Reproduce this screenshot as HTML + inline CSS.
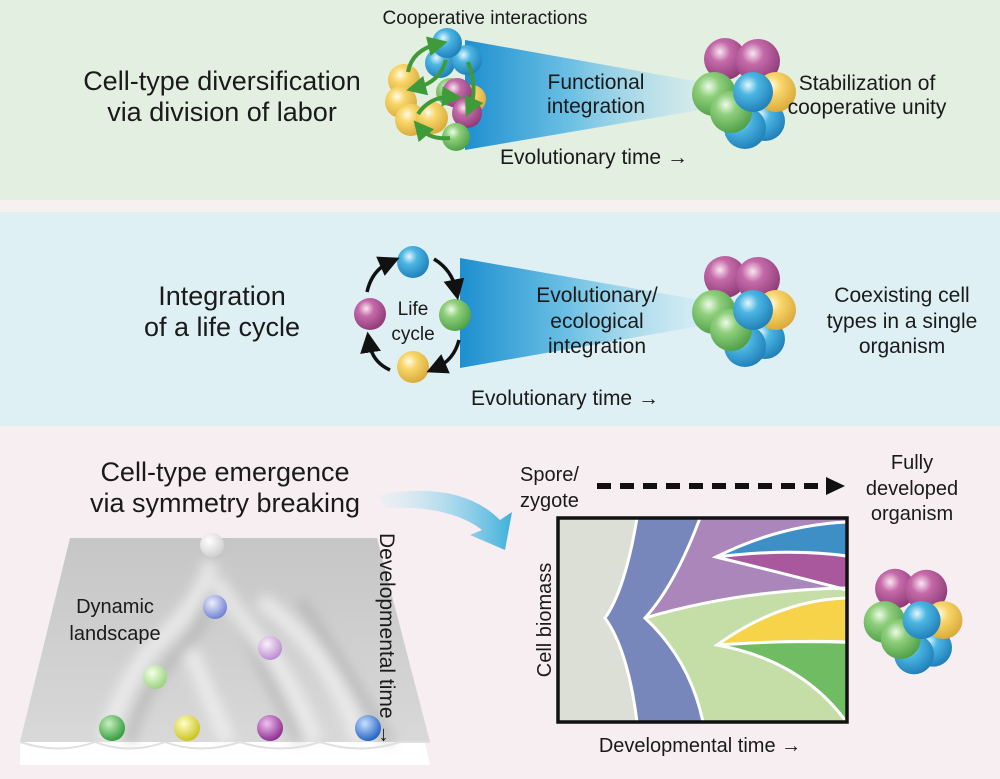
<!DOCTYPE html>
<html><head><meta charset="utf-8"><style>
html,body{margin:0;padding:0;background:#f7f0f1}
svg{display:block}
text{font-family:"Liberation Sans",Arial,sans-serif;fill:#1a1a1a}
</style></head><body>
<svg width="1000" height="779" viewBox="0 0 1000 779" xmlns="http://www.w3.org/2000/svg">
<defs>
<radialGradient id="gb" cx="0.38" cy="0.33" r="0.7"><stop offset="0" stop-color="#e6f6fc"/><stop offset="0.35" stop-color="#4cb6e3"/><stop offset="1" stop-color="#1f7fb8"/></radialGradient>
<radialGradient id="gy" cx="0.38" cy="0.33" r="0.7"><stop offset="0" stop-color="#fffbe6"/><stop offset="0.35" stop-color="#f8d66a"/><stop offset="1" stop-color="#d9a93a"/></radialGradient>
<radialGradient id="gp" cx="0.38" cy="0.33" r="0.7"><stop offset="0" stop-color="#f8e6f2"/><stop offset="0.35" stop-color="#c56aa8"/><stop offset="1" stop-color="#8e3a78"/></radialGradient>
<radialGradient id="gg" cx="0.38" cy="0.33" r="0.7"><stop offset="0" stop-color="#eefae8"/><stop offset="0.35" stop-color="#8fcf7c"/><stop offset="1" stop-color="#4e9f47"/></radialGradient>
<radialGradient id="gw" cx="0.38" cy="0.33" r="0.7"><stop offset="0" stop-color="#ffffff"/><stop offset="1" stop-color="#cfcfcf"/></radialGradient>
<radialGradient id="gbl" cx="0.38" cy="0.33" r="0.7"><stop offset="0" stop-color="#eef"/><stop offset="1" stop-color="#6d7fd0"/></radialGradient>
<radialGradient id="gli" cx="0.38" cy="0.33" r="0.7"><stop offset="0" stop-color="#fbf0fb"/><stop offset="1" stop-color="#b88ad0"/></radialGradient>
<radialGradient id="glg" cx="0.38" cy="0.33" r="0.7"><stop offset="0" stop-color="#f4ffe8"/><stop offset="1" stop-color="#9ad27a"/></radialGradient>
<radialGradient id="gdg" cx="0.38" cy="0.33" r="0.7"><stop offset="0" stop-color="#c8f0c0"/><stop offset="1" stop-color="#2f9a3a"/></radialGradient>
<radialGradient id="gdy" cx="0.38" cy="0.33" r="0.7"><stop offset="0" stop-color="#ffffc8"/><stop offset="1" stop-color="#c9c21a"/></radialGradient>
<radialGradient id="gdp" cx="0.38" cy="0.33" r="0.7"><stop offset="0" stop-color="#f0c0f0"/><stop offset="1" stop-color="#8a2a90"/></radialGradient>
<radialGradient id="gdb" cx="0.38" cy="0.33" r="0.7"><stop offset="0" stop-color="#c8e0ff"/><stop offset="1" stop-color="#1f5fc0"/></radialGradient>
<linearGradient id="fun" x1="0" x2="1" y1="0" y2="0"><stop offset="0" stop-color="#1e8fd0"/><stop offset="0.45" stop-color="#6cc0e4"/><stop offset="1" stop-color="#c8e8f2" stop-opacity="0.5"/></linearGradient>
<linearGradient id="land" x1="0" x2="0" y1="0" y2="1"><stop offset="0" stop-color="#c6c6c6"/><stop offset="1" stop-color="#d8d8d8"/></linearGradient>
<linearGradient id="arr" x1="0" x2="1"><stop offset="0" stop-color="#dff2f8" stop-opacity="0.3"/><stop offset="1" stop-color="#3fb0dc"/></linearGradient>
<filter id="bl"><feGaussianBlur stdDeviation="6"/></filter>
<marker id="ah" markerWidth="6" markerHeight="6" refX="3" refY="3" orient="auto"><path d="M0,0 L6,3 L0,6 z" fill="#111"/></marker>
<marker id="ahg" markerWidth="5" markerHeight="5" refX="2.5" refY="2.5" orient="auto"><path d="M0,0 L5,2.5 L0,5 z" fill="#3f9a3a"/></marker>
<g id="cl">
<circle cx="-20" cy="-35" r="21" fill="url(#gp)"/>
<circle cx="13" cy="-33" r="22" fill="url(#gp)"/>
<circle cx="-31" cy="0" r="22" fill="url(#gg)"/>
<circle cx="20" cy="27" r="20" fill="url(#gb)"/>
<circle cx="0" cy="34" r="21" fill="url(#gb)"/>
<circle cx="-14" cy="18" r="21" fill="url(#gg)"/>
<circle cx="31" cy="-2" r="20" fill="url(#gy)"/>
<circle cx="8" cy="-2" r="20" fill="url(#gb)"/>
</g>
</defs>

<rect x="0" y="0" width="1000" height="200" fill="#e3efe1"/>
<rect x="0" y="212" width="1000" height="214" fill="#dff0f4"/>
<rect x="0" y="432" width="1000" height="347" fill="#f6eef1"/>

<!-- TOP -->
<text x="222" y="90" font-size="27" text-anchor="middle">Cell-type diversification</text>
<text x="222" y="121" font-size="27" text-anchor="middle">via division of labor</text>
<text x="485" y="24" font-size="19" text-anchor="middle">Cooperative interactions</text>
<path d="M465,40 L700,82 L700,110 L465,150 Z" fill="url(#fun)"/>
<g>
<circle cx="404" cy="80" r="16" fill="url(#gy)"/>
<circle cx="401" cy="102" r="16" fill="url(#gy)"/>
<circle cx="411" cy="120" r="16" fill="url(#gy)"/>
<circle cx="432" cy="118" r="16" fill="url(#gy)"/>
<circle cx="440" cy="63" r="15" fill="url(#gb)"/>
<circle cx="467" cy="60" r="15" fill="url(#gb)"/>
<circle cx="447" cy="43" r="15" fill="url(#gb)"/>
<circle cx="450" cy="92" r="14" fill="url(#gg)"/>
<circle cx="472" cy="99" r="14" fill="url(#gy)"/>
<circle cx="457" cy="93" r="15" fill="url(#gp)"/>
<circle cx="467" cy="113" r="15" fill="url(#gp)"/>
<circle cx="456" cy="137" r="14" fill="url(#gg)"/>
<path d="M408,72 Q412,50 438,44" stroke="#3f9a3a" stroke-width="4" fill="none" marker-end="url(#ahg)"/>
<path d="M446,60 Q440,82 416,88" stroke="#3f9a3a" stroke-width="4" fill="none" marker-end="url(#ahg)"/>
<path d="M468,62 Q478,90 470,108" stroke="#3f9a3a" stroke-width="4" fill="none" marker-end="url(#ahg)"/>
<path d="M418,114 Q430,96 452,97" stroke="#3f9a3a" stroke-width="4" fill="none" marker-end="url(#ahg)"/>
<path d="M450,138 Q430,140 420,128" stroke="#3f9a3a" stroke-width="4" fill="none" marker-end="url(#ahg)"/>
</g>
<text x="596" y="89" font-size="21" text-anchor="middle">Functional</text>
<text x="596" y="113" font-size="21" text-anchor="middle">integration</text>
<use href="#cl" transform="translate(745,94)"/>
<text x="867" y="90" font-size="21" text-anchor="middle">Stabilization of</text>
<text x="867" y="114" font-size="21" text-anchor="middle">cooperative unity</text>
<text x="594" y="164" font-size="21" text-anchor="middle">Evolutionary time →</text>

<!-- MIDDLE -->
<text x="222" y="305" font-size="27" text-anchor="middle">Integration</text>
<text x="222" y="336" font-size="27" text-anchor="middle">of a life cycle</text>
<path d="M460,258 L700,300 L700,326 L460,368 Z" fill="url(#fun)"/>
<circle cx="413" cy="262" r="16" fill="url(#gb)"/>
<circle cx="370" cy="314" r="16" fill="url(#gp)"/>
<circle cx="455" cy="315" r="16" fill="url(#gg)"/>
<circle cx="413" cy="367" r="16" fill="url(#gy)"/>
<path d="M367,292 Q372,270 390,262" stroke="#111" stroke-width="3.5" fill="none" marker-end="url(#ah)"/>
<path d="M434,259 Q452,270 456,290" stroke="#111" stroke-width="3.5" fill="none" marker-end="url(#ah)"/>
<path d="M459,340 Q454,360 436,368" stroke="#111" stroke-width="3.5" fill="none" marker-end="url(#ah)"/>
<path d="M390,370 Q372,362 369,342" stroke="#111" stroke-width="3.5" fill="none" marker-end="url(#ah)"/>
<text x="413" y="315" font-size="19" text-anchor="middle">Life</text>
<text x="413" y="340" font-size="19" text-anchor="middle">cycle</text>
<text x="597" y="302" font-size="21" text-anchor="middle">Evolutionary/</text>
<text x="597" y="328" font-size="21" text-anchor="middle">ecological</text>
<text x="597" y="353" font-size="21" text-anchor="middle">integration</text>
<use href="#cl" transform="translate(745,312)"/>
<text x="902" y="302" font-size="21" text-anchor="middle">Coexisting cell</text>
<text x="902" y="328" font-size="21" text-anchor="middle">types in a single</text>
<text x="902" y="353" font-size="21" text-anchor="middle">organism</text>
<text x="565" y="405" font-size="21" text-anchor="middle">Evolutionary time →</text>

<!-- BOTTOM -->
<text x="225" y="481" font-size="27" text-anchor="middle">Cell-type emergence</text>
<text x="225" y="512" font-size="27" text-anchor="middle">via symmetry breaking</text>
<path d="M378,495 Q460,480 500,520 L512,512 L505,550 L470,535 L482,530 Q450,505 385,508 Z" fill="url(#arr)"/>
<path d="M20,742 L425,742 L430,765 L20,765 Z" fill="#ffffff"/>
<path d="M70,538 L377,538 L430,742 L20,742 Z" fill="url(#land)"/>
<g filter="url(#bl)" fill="none">
<path d="M212,545 Q220,600 190,640 Q140,690 130,742 M222,590 Q260,660 300,742 M300,600 Q340,660 390,742" stroke="#a9a9a9" stroke-width="10" opacity="0.6"/>
<path d="M212,560 Q205,600 150,650 Q120,690 105,742 M215,580 Q240,620 275,660 Q300,700 315,742 M190,650 Q210,700 228,742 M260,600 Q330,650 360,742" stroke="#f0f0f0" stroke-width="16" opacity="0.8"/>
</g>
<path d="M20,742 Q60,755 95,742 Q130,755 165,742 Q200,755 240,742 Q280,755 320,742 Q360,755 400,742 L430,742" stroke="#e0e0e0" stroke-width="2" fill="none"/>
<circle cx="212" cy="545" r="12" fill="url(#gw)"/>
<circle cx="215" cy="607" r="12" fill="url(#gbl)"/>
<circle cx="270" cy="648" r="12" fill="url(#gli)"/>
<circle cx="155" cy="677" r="12" fill="url(#glg)"/>
<circle cx="112" cy="728" r="13" fill="url(#gdg)"/>
<circle cx="187" cy="728" r="13" fill="url(#gdy)"/>
<circle cx="270" cy="728" r="13" fill="url(#gdp)"/>
<circle cx="368" cy="728" r="13" fill="url(#gdb)"/>
<text x="115" y="613" font-size="20" text-anchor="middle">Dynamic</text>
<text x="115" y="640" font-size="20" text-anchor="middle">landscape</text>
<text x="0" y="0" font-size="21" transform="translate(380,533) rotate(90)">Developmental time →</text>

<text x="520" y="481" font-size="20">Spore/</text>
<text x="520" y="507" font-size="20">zygote</text>
<line x1="597" y1="486" x2="828" y2="486" stroke="#111" stroke-width="6" stroke-dasharray="14,9"/>
<path d="M826,477 L845,486 L826,495 Z" fill="#111"/>
<text x="912" y="469" font-size="20" text-anchor="middle">Fully</text>
<text x="912" y="495" font-size="20" text-anchor="middle">developed</text>
<text x="912" y="520" font-size="20" text-anchor="middle">organism</text>
<rect x="558" y="518" width="289" height="204" fill="#c5dea8"/>
<path d="M558,518 L637,518 Q625,590 605,618 Q628,650 637,722 L558,722 Z" fill="#dcdfd5"/>
<path d="M637,518 L700,518 Q675,585 645,618 Q690,660 703,722 L637,722 Q628,650 605,618 Q625,590 637,518 Z" fill="#7787bb"/>
<path d="M700,518 L847,518 L847,588 Q740,590 645,618 Q675,585 700,518 Z" fill="#ab86bb"/>
<path d="M716,557 Q780,525 847,522 L847,555 Q790,545 716,557 Z" fill="#3e8fc6"/>
<path d="M716,557 Q790,548 847,558 L847,590 Q790,575 716,557 Z" fill="#a9589d"/>
<path d="M717,645 Q780,600 847,598 L847,640 Q790,638 717,645 Z" fill="#f6d348"/>
<path d="M717,645 Q790,642 847,644 L847,720 Q800,660 717,645 Z" fill="#6fbc63"/>
<g stroke="#fff" stroke-width="3" fill="none">
<path d="M637,518 Q625,590 605,618 Q628,650 637,722"/>
<path d="M700,518 Q675,585 645,618 Q690,660 703,722"/>
<path d="M645,618 Q740,590 847,588"/>
<path d="M847,522 Q780,525 716,557 Q790,575 847,590"/>
<path d="M716,557 Q790,548 847,556"/>
<path d="M847,598 Q780,600 717,645 Q800,660 845,720"/>
<path d="M717,645 Q790,640 847,642"/>
</g>
<rect x="558" y="518" width="289" height="204" fill="none" stroke="#111" stroke-width="3.5"/>
<text x="0" y="0" font-size="20" text-anchor="middle" transform="translate(551,620) rotate(-90)">Cell biomass</text>
<text x="700" y="752" font-size="20" text-anchor="middle">Developmental time →</text>
<use href="#cl" transform="translate(914,622) scale(0.95)"/>
</svg>
</body></html>
